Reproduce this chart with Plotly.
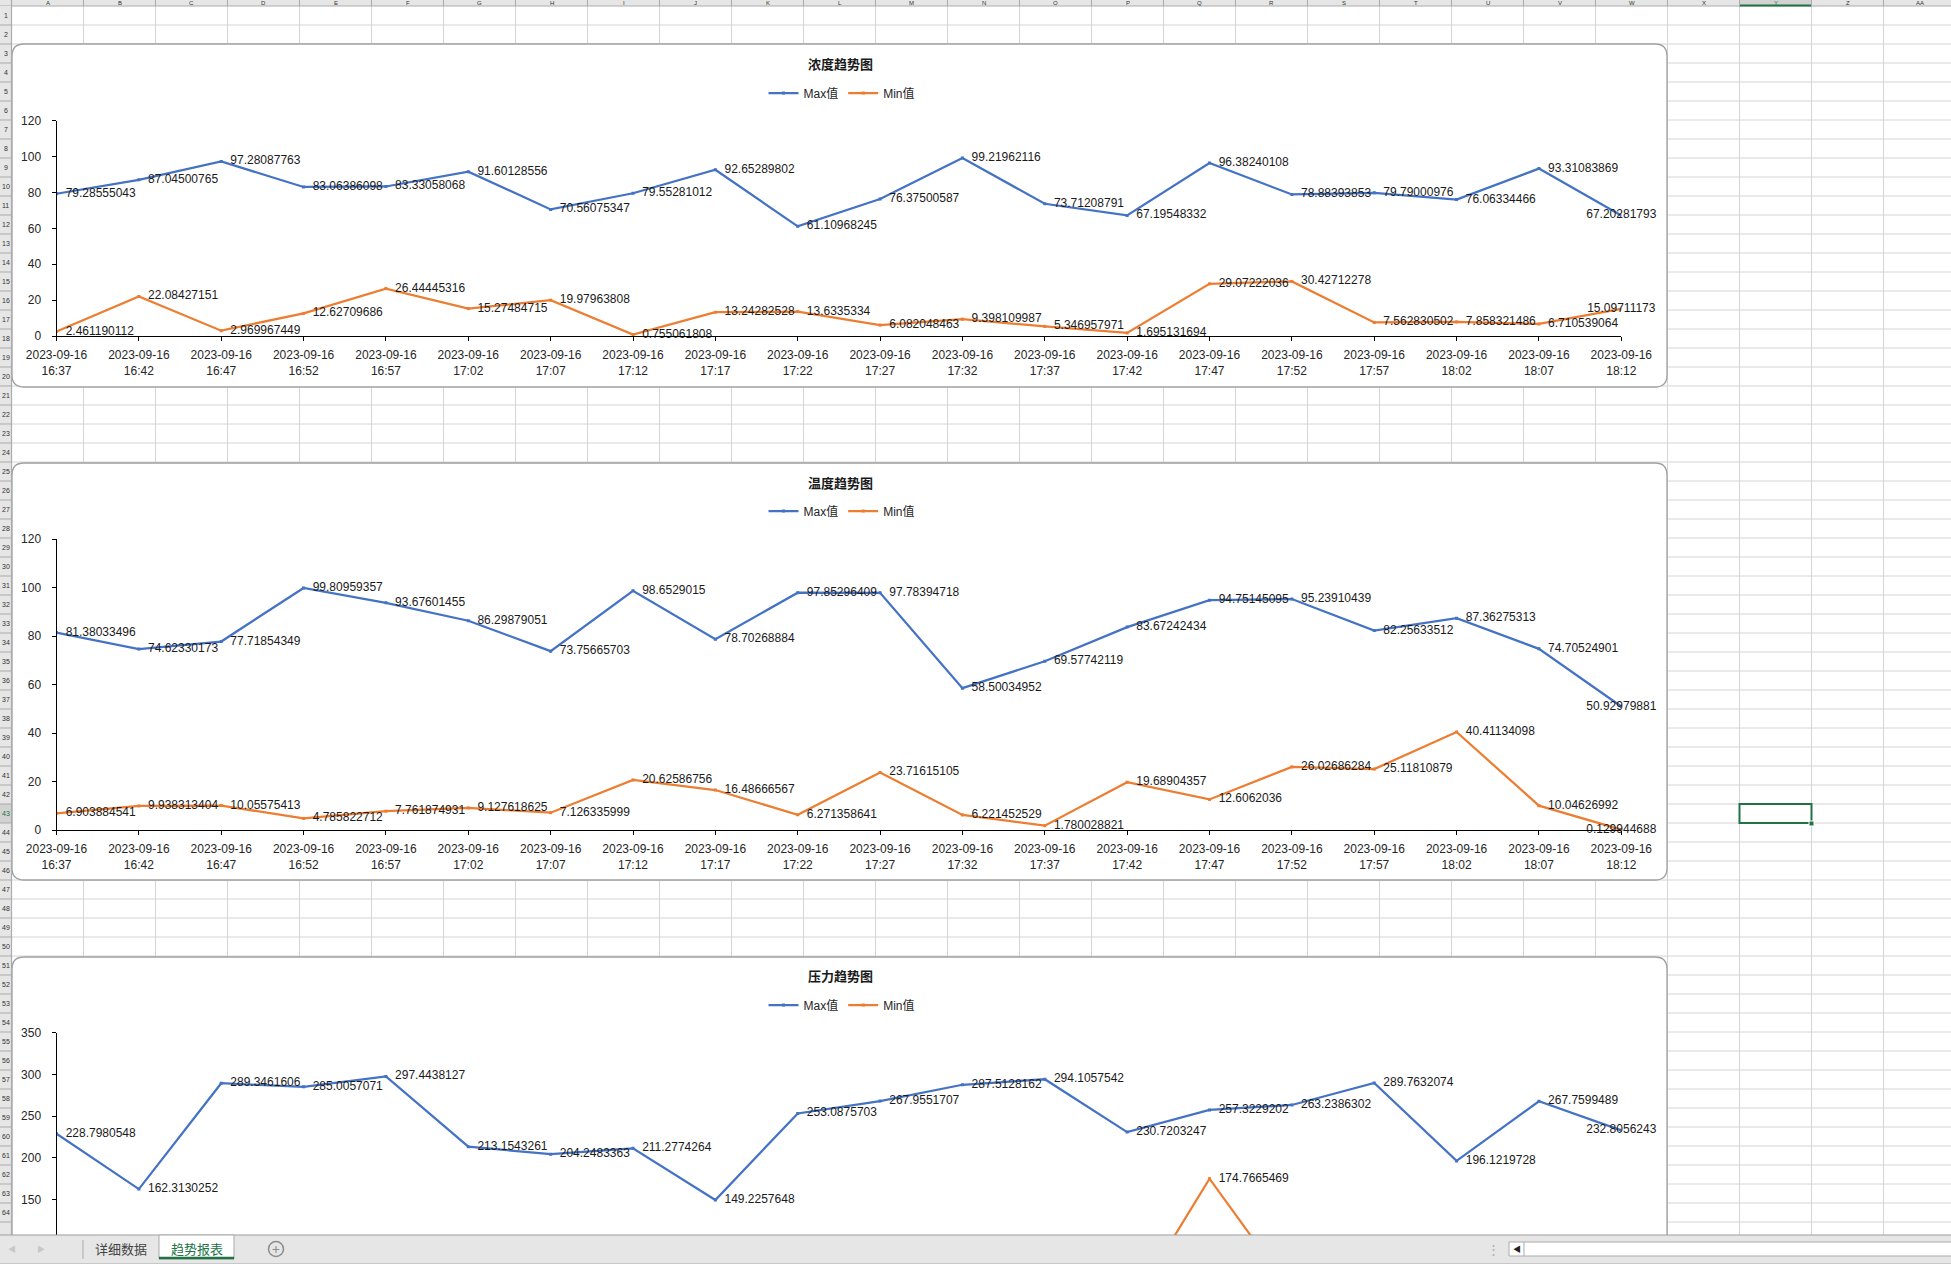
import plotly.graph_objects as go

W, H = 1951, 1264

# ---------------- data ----------------
date_label = "2023-09-16"
times = ["16:37", "16:42", "16:47", "16:52", "16:57", "17:02", "17:07", "17:12", "17:17", "17:22",
         "17:27", "17:32", "17:37", "17:42", "17:47", "17:52", "17:57", "18:02", "18:07", "18:12"]
tick_labels = [f"{date_label}<br>{t}" for t in times]

series_names = ["Max值", "Min值"]
chart_titles = ["浓度趋势图", "温度趋势图", "压力趋势图"]

conc_max = [79.28555043, 87.04500765, 97.28087763, 83.06386098, 83.33058068, 91.60128556, 70.56075347,
            79.55281012, 92.65289802, 61.10968245, 76.37500587, 99.21962116, 73.71208791, 67.19548332,
            96.38240108, 78.88393853, 79.79000976, 76.06334466, 93.31083869, 67.20281793]
conc_min = [2.461190112, 22.08427151, 2.969967449, 12.62709686, 26.44445316, 15.27484715, 19.97963808,
            0.755061808, 13.24282528, 13.6335334, 6.082048463, 9.398109987, 5.346957971, 1.695131694,
            29.07222036, 30.42712278, 7.562830502, 7.858321486, 6.710539064, 15.09711173]

temp_max = [81.38033496, 74.62330173, 77.71854349, 99.80959357, 93.67601455, 86.29879051, 73.75665703,
            98.6529015, 78.70268884, 97.85296409, 97.78394718, 58.50034952, 69.57742119, 83.67242434,
            94.75145095, 95.23910439, 82.25633512, 87.36275313, 74.70524901, 50.92979881]
temp_min = [6.903884541, 9.938313404, 10.05575413, 4.785822712, 7.761874931, 9.127618625, 7.126335999,
            20.62586756, 16.48666567, 6.271358641, 23.71615105, 6.221452529, 1.780028821, 19.68904357,
            12.6062036, 26.02686284, 25.11810879, 40.41134098, 10.04626992, 0.129944688]

pres_max = [228.7980548, 162.3130252, 289.3461606, 285.0057071, 297.4438127, 213.1543261, 204.2483363,
            211.2774264, 149.2257648, 253.0875703, 267.9551707, 287.5128162, 294.1057542, 230.7203247,
            257.3229202, 263.2386302, 289.7632074, 196.1219728, 267.7599489, 232.8056243]
# only the 17:47 value is readable; its neighbours are estimated from the line slopes,
# the rest lie below the visible part of the sheet
pres_min = [None, None, None, None, None, None, None, None, None, None,
            None, None, None, 13.3, 174.7665469, 38.5, None, None, None, None]

sheet_tabs = ["详细数据", "趋势报表"]

# ---------------- helpers ----------------
def px(x):
    return x / W


def py(y):
    return 1 - y / H


BLUE = "#4472C4"
ORANGE = "#ED7D31"
FONT = "Liberation Sans, Noto Sans CJK SC, sans-serif"
CJK = "Noto Sans CJK SC, Microsoft YaHei, sans-serif"
GRID = "#D4D4D4"
HEAD_BG = "#E6E6E6"
HEAD_LINE = "#ABABAB"
GREEN = "#217346"

X_LEFT, X_RIGHT = 56.5, 1621.3
xs = list(range(len(times)))

LABEL_FLOOR = 110  # pressure values below this are hidden by the sheet tab bar

# chart specs: frame (top, bottom), axis pixel mapping, legend/title y
charts = [
    dict(title=chart_titles[0], data=(conc_max, conc_min), frame=(44, 387), title_y=63,
         legend_y=93, yr=(0, 120), y_px=(336, 120.7), dtick=20, showx=True, floor=-1e9),
    dict(title=chart_titles[1], data=(temp_max, temp_min), frame=(463, 880), title_y=482,
         legend_y=511, yr=(0, 120), y_px=(830, 539), dtick=20, showx=True, floor=-1e9),
    dict(title=chart_titles[2], data=(pres_max, pres_min), frame=(957, 1450), title_y=975,
         legend_y=1005, yr=(72.4, 350), y_px=(1264, 1032.7), dtick=50, showx=False, floor=LABEL_FLOOR),
]

fig = go.Figure()
shapes = []
annotations = []

# ---------- spreadsheet grid (background) ----------
col_w = 72.0
col_x0 = 11.5
row_h = 19.0
row_y0 = 6.0
for k in range(1, 28):
    x = col_x0 + col_w * k
    shapes.append(dict(type="line", xref="paper", yref="paper", x0=px(x), x1=px(x), y0=py(6), y1=py(1235),
                       line=dict(color=GRID, width=1), layer="below"))
for k in range(1, 66):
    y = row_y0 + row_h * k
    if y > 1235:
        break
    shapes.append(dict(type="line", xref="paper", yref="paper", x0=px(11.5), x1=1, y0=py(y), y1=py(y),
                       line=dict(color=GRID, width=1), layer="below"))


def rounded_rect(x0, y0, x1, y1, r):
    pts = [
        ("M", (x0 + r, y0)), ("L", (x1 - r, y0)), ("Q", (x1, y0), (x1, y0 + r)),
        ("L", (x1, y1 - r)), ("Q", (x1, y1), (x1 - r, y1)), ("L", (x0 + r, y1)),
        ("Q", (x0, y1), (x0, y1 - r)), ("L", (x0, y0 + r)), ("Q", (x0, y0), (x0 + r, y0)),
    ]
    s = ""
    for item in pts:
        cmd = item[0]
        coords = " ".join(f"{px(p[0]):.6f},{py(p[1]):.6f}" for p in item[1:])
        s += f"{cmd}{coords} "
    return s + "Z"


# chart frames
for c in charts:
    t, b = c["frame"]
    shapes.append(dict(type="path", xref="paper", yref="paper", path=rounded_rect(12, t, 1667, b, 12),
                       fillcolor="white", line=dict(color="#A0A0A0", width=1.3), layer="below"))

# selected cell Y43
shapes.append(dict(type="rect", xref="paper", yref="paper", x0=px(1739.5), x1=px(1811.5), y0=py(804),
                   y1=py(823), line=dict(color=GREEN, width=2), fillcolor="rgba(0,0,0,0)", layer="above"))
shapes.append(dict(type="rect", xref="paper", yref="paper", x0=px(1809), x1=px(1814), y0=py(821),
                   y1=py(826), line=dict(color="white", width=1), fillcolor=GREEN, layer="above"))

# ---------- traces ----------
# data labels sit right of each point; the last one is pulled back inside the chart (as Excel does)
label_pos = ["middle right"] * (len(times) - 1) + ["middle center"]

for i, c in enumerate(charts):
    n = "" if i == 0 else str(i + 1)
    xa, ya = "x" + n, "y" + n
    leg = "legend" + n
    for j, (vals, col) in enumerate(zip(c["data"], [BLUE, ORANGE])):
        fig.add_trace(go.Scatter(
            x=xs, y=vals, mode="lines+markers", name=series_names[j],
            line=dict(color=col, width=2.25), marker=dict(size=3, color=col, symbol="square"),
            xaxis=xa, yaxis=ya, legend=leg, connectgaps=False, hoverinfo="skip"))
    for j, vals in enumerate(c["data"]):
        fig.add_trace(go.Scatter(
            x=xs, y=vals, mode="markers+text", showlegend=False,
            text=[("" if (v is None or v < c["floor"]) else repr(v)) for v in vals],
            textposition=label_pos,
            textfont=dict(size=12, color="#1a1a1a", family=FONT),
            marker=dict(size=13, color="rgba(0,0,0,0)"), cliponaxis=False,
            xaxis=xa, yaxis=ya, hoverinfo="skip"))

# ---------- axes ----------
layout_axes = {}
for i, c in enumerate(charts):
    n = "" if i == 0 else str(i + 1)
    ybot_px, ytop_px = c["y_px"]
    lo, hi = c["yr"]
    yticks = [v for v in range(0, int(hi) + 1, c["dtick"]) if v >= lo and v >= c["floor"]]
    layout_axes["xaxis" + n] = dict(
        domain=[px(X_LEFT), px(X_RIGHT)], range=[0, len(times) - 1], anchor="y" + n,
        tickmode="array", tickvals=xs, ticktext=tick_labels, showline=True, linecolor="black",
        linewidth=1, ticks="outside", ticklen=4, tickcolor="black", showgrid=False, zeroline=False,
        tickfont=dict(size=12, color="#262626", family=FONT), ticklabelstandoff=4, visible=c["showx"],
        automargin=False)
    layout_axes["yaxis" + n] = dict(
        domain=[py(ybot_px), py(ytop_px)], range=[lo, hi], anchor="x" + n,
        tickmode="array", tickvals=yticks, showline=True, linecolor="black", linewidth=1,
        ticks="outside", ticklen=4, tickcolor="black", showgrid=False, zeroline=False,
        tickfont=dict(size=12, color="#262626", family=FONT), ticklabelstandoff=8, automargin=False)
    annotations.append(dict(text=f"<b>{c['title']}</b>", x=px(840), y=py(c["title_y"]), xref="paper",
                            yref="paper", showarrow=False, xanchor="center", yanchor="middle",
                            font=dict(size=13, color="#1a1a1a", family=CJK)))

legends = {}
for i, c in enumerate(charts):
    n = "" if i == 0 else str(i + 1)
    legends["legend" + n] = dict(orientation="h", x=px(842), y=py(c["legend_y"]), xanchor="center",
                                 yanchor="middle", font=dict(size=12, color="#262626", family=FONT),
                                 bgcolor="rgba(0,0,0,0)", itemwidth=30)

# ---------- headers (drawn above) ----------
shapes.append(dict(type="rect", xref="paper", yref="paper", x0=0, x1=1, y0=py(6), y1=1,
                   fillcolor=HEAD_BG, line=dict(width=0), layer="above"))
shapes.append(dict(type="rect", xref="paper", yref="paper", x0=px(1739.5), x1=px(1811.5), y0=py(6), y1=1,
                   fillcolor="#D2D2D2", line=dict(width=0), layer="above"))
shapes.append(dict(type="line", xref="paper", yref="paper", x0=0, x1=1, y0=py(6), y1=py(6),
                   line=dict(color=HEAD_LINE, width=1.2), layer="above"))
shapes.append(dict(type="line", xref="paper", yref="paper", x0=px(1739.5), x1=px(1811.5), y0=py(5.5),
                   y1=py(5.5), line=dict(color=GREEN, width=2), layer="above"))
letters = [chr(ord("A") + k) for k in range(26)] + ["AA"]
for k, letter in enumerate(letters):
    xb = col_x0 + col_w * (k + 1)
    shapes.append(dict(type="line", xref="paper", yref="paper", x0=px(xb), x1=px(xb), y0=py(6), y1=1,
                       line=dict(color=HEAD_LINE, width=1), layer="above"))
    if col_x0 + col_w * (k + 0.5) < W - 12:
        annotations.append(dict(text=letter, x=px(col_x0 + col_w * (k + 0.5)), y=py(3.2), xref="paper",
                                yref="paper", showarrow=False, xanchor="center", yanchor="middle",
                                font=dict(size=6, color=GREEN if letter == "Y" else "#333", family=FONT)))
# row header
shapes.append(dict(type="rect", xref="paper", yref="paper", x0=0, x1=px(11.5), y0=py(1235), y1=py(6),
                   fillcolor=HEAD_BG, line=dict(width=0), layer="above"))
shapes.append(dict(type="rect", xref="paper", yref="paper", x0=0, x1=px(11.5), y0=py(823), y1=py(804),
                   fillcolor="#D2D2D2", line=dict(width=0), layer="above"))
shapes.append(dict(type="line", xref="paper", yref="paper", x0=px(11.5), x1=px(11.5), y0=py(1235), y1=1,
                   line=dict(color=HEAD_LINE, width=1.2), layer="above"))
for r in range(1, 66):
    yb = row_y0 + row_h * r
    if yb <= 1236:
        shapes.append(dict(type="line", xref="paper", yref="paper", x0=0, x1=px(11.5), y0=py(yb), y1=py(yb),
                           line=dict(color=HEAD_LINE, width=1), layer="above"))
    yc = row_y0 + row_h * (r - 0.5)
    if yc < 1226:
        annotations.append(dict(text=str(r), x=px(5.8), y=py(yc), xref="paper", yref="paper", showarrow=False,
                                xanchor="center", yanchor="middle",
                                font=dict(size=7, color=GREEN if r == 43 else "#333", family=FONT)))

# ---------- sheet tab bar ----------
shapes += [
    dict(type="rect", xref="paper", yref="paper", x0=0, x1=1, y0=0, y1=py(1235), fillcolor=HEAD_BG,
         line=dict(width=0), layer="above"),
    dict(type="line", xref="paper", yref="paper", x0=0, x1=1, y0=py(1235), y1=py(1235),
         line=dict(color="#9E9E9E", width=1.2), layer="above"),
    dict(type="line", xref="paper", yref="paper", x0=0, x1=1, y0=py(1263.5), y1=py(1263.5),
         line=dict(color="#C8C8C8", width=1), layer="above"),
    dict(type="rect", xref="paper", yref="paper", x0=px(159), x1=px(234), y0=py(1259), y1=py(1235),
         fillcolor="white", line=dict(color="#ABABAB", width=1), layer="above"),
    dict(type="line", xref="paper", yref="paper", x0=px(159), x1=px(234), y0=py(1258), y1=py(1258),
         line=dict(color=GREEN, width=2.5), layer="above"),
    dict(type="line", xref="paper", yref="paper", x0=px(83), x1=px(83), y0=py(1240), y1=py(1259),
         line=dict(color="#ABABAB", width=1), layer="above"),
    dict(type="circle", xref="paper", yref="paper", x0=px(268.5), x1=px(283.5), y0=py(1241.5),
         y1=py(1256.5), line=dict(color="#8C8C8C", width=1.5), fillcolor="rgba(0,0,0,0)", layer="above"),
    dict(type="rect", xref="paper", yref="paper", x0=px(1509), x1=px(1960), y0=py(1256), y1=py(1242),
         fillcolor="white", line=dict(color="#ABABAB", width=1), layer="above"),
    dict(type="line", xref="paper", yref="paper", x0=px(1524), x1=px(1524), y0=py(1256), y1=py(1242),
         line=dict(color="#ABABAB", width=1), layer="above"),
]
for txt, xc, col, size in [("◀", 12, "#C8C8C8", 8), ("▶", 41, "#C8C8C8", 8),
                           (sheet_tabs[0], 121, "#444444", 13), (sheet_tabs[1], 197, GREEN, 13),
                           ("+", 276, "#8C8C8C", 14), ("⋮", 1493, "#ABABAB", 13), ("◀", 1516.5, "#222", 8)]:
    annotations.append(dict(text=txt, x=px(xc), y=py(1248.5), xref="paper", yref="paper", showarrow=False,
                            xanchor="center", yanchor="middle", font=dict(size=size, color=col, family=CJK)))

fig.update_layout(
    width=W, height=H, margin=dict(l=0, r=0, t=0, b=0, pad=0, autoexpand=False), autosize=False,
    paper_bgcolor="white", plot_bgcolor="rgba(0,0,0,0)",
    font=dict(family=FONT, size=12, color="#262626"),
    shapes=shapes, annotations=annotations, hovermode=False,
    **layout_axes, **legends,
)

fig.write_html("out.html", config={"displayModeBar": False},
               post_script="document.body.style.margin='0px';document.body.style.overflow='hidden';")
